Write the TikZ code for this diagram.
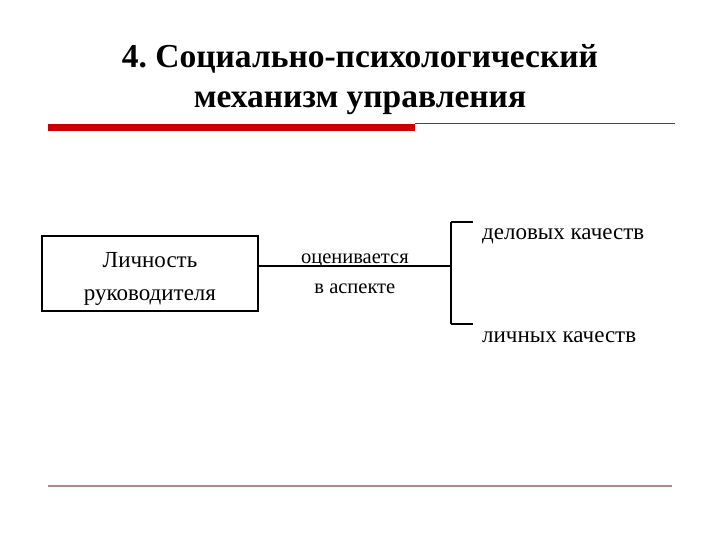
\documentclass[tikz,border=0pt]{standalone}
\usepackage{fontspec}
\setmainfont{Liberation Serif}
\frenchspacing
\usetikzlibrary{positioning, calc}

\definecolor{barred}{RGB}{200,0,0}
\definecolor{thinred}{RGB}{150,40,40}
\definecolor{footline}{RGB}{178,138,138}

\tikzset{
    lbl/.style={inner sep=0pt, font=\fontsize{23}{27}\selectfont},
    midlbl/.style={inner sep=0pt, anchor=base, font=\fontsize{20.5}{25}\selectfont},
    pbox/.style={draw, line width=1.5pt, minimum width=216pt, minimum height=75pt, inner sep=0pt},
    boxtxt/.style={align=center, inner sep=0pt, font=\fontsize{23}{33}\selectfont}
}

\begin{document}
\begin{tikzpicture}[x=1pt, y=-1pt]
    \useasboundingbox (0,0) rectangle (720,540);
    \node[font=\bfseries\fontsize{33.5}{40}\selectfont, align=center, inner sep=0pt] (title) at (360,79.5) {4. Социально-психологический\\механизм управления};
    \fill[barred] (48,124) rectangle (415,131);
    \draw[thinred, line width=0.8pt] (415,123.5) -- (675,123.5);
    \draw[footline, line width=2pt] (48,485.5) -- (672,485.5);
    \node[pbox] (lichn) at (150,273.5) {};
    \node[boxtxt] (lichntxt) at ($(lichn.center)+(0,5)$) {Личность\\руководителя};
    \coordinate (fork) at (451,266);
    \draw[line width=1.5pt] (lichn.east |- fork) -- (fork);
    \coordinate (mid) at ($(lichn.east |- fork)!0.5!(fork)$);
    \node[midlbl] (ocen) at ($(mid)+(0,-3)$) {оценивается};
    \node[midlbl] (aspekt) at ($(mid)+(0,27)$) {в аспекте};
    \node[lbl, anchor=west] (delov) at (482,236) {деловых качеств};
    \node[lbl, anchor=west] (lichq) at (482,337) {личных качеств};
    \coordinate (top) at (451,222);
    \coordinate (bot) at (451,324);
    \draw[line width=1.5pt] (top) -- (bot);
    \draw[line width=2.5pt] (top) -- ++(22,0);
    \draw[line width=2.5pt] (bot) -- ++(22,0);
\end{tikzpicture}
\end{document}
